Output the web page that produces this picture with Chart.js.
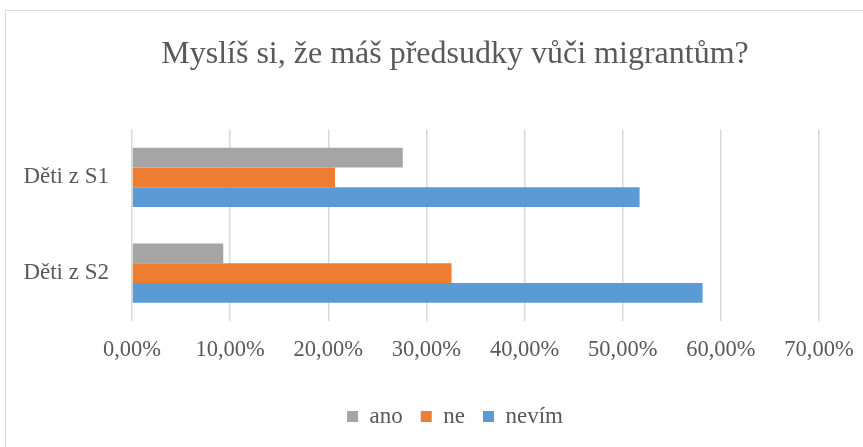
<!DOCTYPE html>
<html>
<head>
<meta charset="utf-8">
<script src="https://cdn.jsdelivr.net/npm/chart.js@4.4.1/dist/chart.umd.min.js"></script>
<style>
  html, body { margin: 0; padding: 0; background: #fff; overflow: hidden; }
  #wrap { position: relative; width: 863px; height: 447px; overflow: hidden; }
  #frame { position: absolute; left: 5px; top: 10px; width: 900px; height: 500px; border: 1px solid #d9d9d9; }
  #chart { position: absolute; left: 0; top: 0; }
</style>
</head>
<body>
<div id="wrap">
  <div id="frame"></div>
  <!-- the original frame runs past the right edge of the picture, so the canvas does too -->
  <canvas id="chart" width="910" height="447"></canvas>
</div>
<script>
// Chart data
const categories = ["Děti z S1", "Děti z S2"]
const seriesNames = ["ano", "ne", "nevím"]
const ano = [27.59, 9.3]
const ne = [20.69, 32.56]
const nevim = [51.72, 58.14]
const xTicks = [0, 10, 20, 30, 40, 50, 60, 70]

const textColor = "#595959"
const serif = "'Liberation Serif', 'Times New Roman', serif"

function formatPercent(v) {
  return v.toFixed(2).replace(".", ",") + "%"
}

document.addEventListener("DOMContentLoaded", () => {
  const ctx = document.getElementById("chart").getContext("2d")

  new Chart(ctx, {
    type: "bar",
    data: {
      labels: categories,
      datasets: [
        { label: seriesNames[0], data: ano, backgroundColor: "#a5a5a5", yAxisID: "y" },
        { label: seriesNames[1], data: ne, backgroundColor: "#ed7d31", yAxisID: "y" },
        { label: seriesNames[2], data: nevim, backgroundColor: "#5b9bd5", yAxisID: "y" },
      ],
    },
    options: {
      indexAxis: "y",
      responsive: false,
      animation: false,
      categoryPercentage: 0.618,
      barPercentage: 1,
      layout: { padding: { left: 0, right: 0, top: 0, bottom: 9 } },
      plugins: {
        title: {
          display: true,
          text: "Myslíš si, že máš předsudky vůči migrantům?",
          color: textColor,
          font: { family: serif, size: 32, weight: "normal", lineHeight: 1.2 },
          padding: { top: 35, bottom: 56 },
        },
        legend: {
          position: "bottom",
          labels: {
            color: textColor,
            font: { family: serif, size: 23, lineHeight: 1 },
            boxWidth: 11,
            boxHeight: 11,
            padding: 18,
          },
        },
        tooltip: { enabled: false },
      },
      scales: {
        x: {
          min: 0,
          max: 70,
          afterBuildTicks: (scale) => {
            scale.ticks = xTicks.map((v) => ({ value: v }))
          },
          afterFit: (scale) => {
            scale.height = 66
          },
          grid: { color: "#d9d9d9", lineWidth: 1.5, drawTicks: false },
          border: { display: false },
          ticks: {
            color: textColor,
            padding: 16,
            maxRotation: 0,
            font: { family: serif, size: 22.5 },
            callback: (v) => formatPercent(v),
          },
        },
        y: {
          afterFit: (scale) => {
            scale.width = 132
          },
          grid: { display: false, drawTicks: false },
          border: { display: false },
          ticks: {
            color: textColor,
            padding: 23,
            font: { family: serif, size: 23 },
          },
        },
        // empty spacer on the right so the plot ends at 70 % like the original
        yRight: {
          type: "category",
          position: "right",
          afterFit: (scale) => {
            scale.width = 91
          },
          grid: { display: false, drawTicks: false },
          border: { display: false },
          ticks: { display: false },
        },
      },
    },
  })
})
</script>
</body>
</html>
